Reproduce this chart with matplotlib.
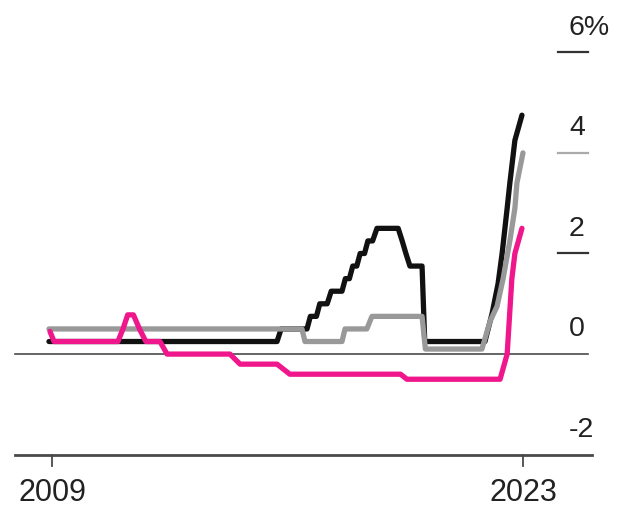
import matplotlib
matplotlib.use("Agg")
import matplotlib.pyplot as plt
from matplotlib.transforms import blended_transform_factory

plt.rcParams['font.family'] = ['Liberation Sans', 'DejaVu Sans']

# policy rates, % (decimal year, rate)
black_years = [2008.91, 2015.69, 2015.81, 2016.58, 2016.68, 2016.86, 2016.96, 2017.18, 2017.30,
               2017.62, 2017.72, 2017.84, 2017.94, 2018.06, 2018.16, 2018.29, 2018.39, 2018.53,
               2018.66, 2019.29, 2019.41, 2019.52, 2019.64, 2020.00, 2020.08, 2021.87, 2022.08,
               2022.26, 2022.38, 2022.53, 2022.61, 2022.76, 2022.97]
black_rates = [0.25, 0.25, 0.5, 0.5, 0.75, 0.75, 1.0, 1.0, 1.25,
               1.25, 1.5, 1.5, 1.75, 1.75, 2.0, 2.0, 2.25, 2.25,
               2.5, 2.5, 2.25, 2.0, 1.75, 1.75, 0.25, 0.25, 0.8,
               1.4, 2.0, 2.9, 3.4, 4.25, 4.75]

gray_years = [2008.91, 2016.43, 2016.52, 2017.62, 2017.71, 2018.36, 2018.51, 2020.00, 2020.10,
              2021.78, 2022.02, 2022.23, 2022.41, 2022.61, 2022.76, 2022.82, 2023.00]
gray_rates = [0.5, 0.5, 0.25, 0.25, 0.5, 0.5, 0.75, 0.75, 0.1,
              0.1, 0.65, 0.95, 1.5, 2.25, 2.9, 3.4, 4.0]

pink_years = [2008.94, 2009.06, 2010.96, 2011.11, 2011.25, 2011.42, 2011.60, 2011.79, 2012.21,
              2012.42, 2014.29, 2014.59, 2015.69, 2016.07, 2019.36, 2019.55, 2022.32, 2022.53,
              2022.67, 2022.76, 2022.97]
pink_rates = [0.45, 0.25, 0.25, 0.5, 0.78, 0.78, 0.5, 0.25, 0.25,
              0.0, 0.0, -0.2, -0.2, -0.4, -0.4, -0.5, -0.5, 0.0,
              1.5, 2.0, 2.5]

y_ticks = [6, 4, 2, 0, -2]
y_labels = ['6%', '4', '2', '0', '-2']
x_ticks = [2009, 2023]

fig = plt.figure(figsize=(6.22, 5.09), dpi=100)
ax = fig.add_axes([0, 0, 1, 1])
ax.set_xlim(2007.454, 2025.944)
ax.set_ylim(-3.08, 7.04)
ax.axis('off')

# x in axes fraction, y in data
tr = blended_transform_factory(ax.transAxes, ax.transData)

# zero line and bottom axis span the width, the rest are short stubs on the right
for v in y_ticks:
    if v == 0:
        ax.plot([15 / 622, 588 / 622], [v, v], color='#4a4a4a', lw=1.2, transform=tr, zorder=1)
    elif v == -2:
        ax.plot([15 / 622, 592 / 622], [v, v], color='#4a4a4a', lw=2.0, transform=tr, zorder=1)
    else:
        c = '#aaaaaa' if v == 4 else '#333333'
        ax.plot([558 / 622, 588 / 622], [v, v], color=c, lw=1.6, transform=tr, zorder=1)

for v, lab in zip(y_ticks, y_labels):
    ax.text(569 / 622, v + 0.35, lab, transform=tr, ha='left', va='baseline',
            fontsize=20.5, color='#222222')

# year ticks under the axis
for yr in x_ticks:
    ax.plot([yr, yr], [-2, -2.22], color='#4a4a4a', lw=1.3, zorder=1)
    ax.text(yr, -2.93, str(yr), ha='center', va='baseline', fontsize=22, color='#222222')

line_kw = dict(lw=3.8, solid_joinstyle='round', solid_capstyle='round')
ax.plot(black_years, black_rates, color='#111111', zorder=3, **line_kw)
ax.plot(gray_years, gray_rates, color='#999999', zorder=4, **line_kw)
ax.plot(pink_years, pink_rates, color='#f0168c', zorder=5, **line_kw)

fig.savefig('out.png', dpi=100)
